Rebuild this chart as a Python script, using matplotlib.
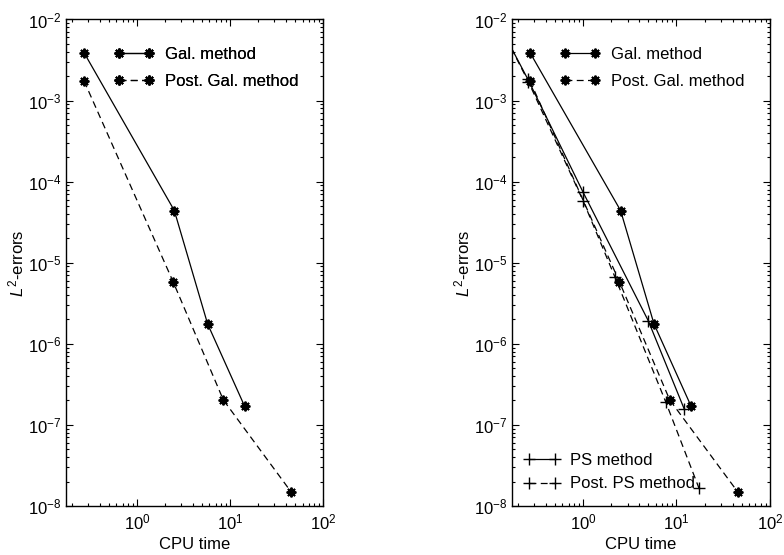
import matplotlib
matplotlib.use("Agg")
from matplotlib import pyplot as plt
from matplotlib.ticker import FixedLocator, LogLocator, NullFormatter

plt.rcParams['font.family'] = ['Liberation Sans', 'DejaVu Sans']
plt.rcParams['mathtext.fontset'] = 'custom'
plt.rcParams['mathtext.rm'] = 'Liberation Sans'
plt.rcParams['mathtext.it'] = 'Liberation Sans:italic'
plt.rcParams['font.size'] = 12

# CPU time vs L2 error, Galerkin and postprocessed Galerkin
gal_t = [0.27, 2.52, 5.74, 14.3]
gal_err = [3.9e-3, 4.4e-5, 1.76e-6, 1.71e-7]
post_gal_t = [0.27, 2.45, 8.47, 45.3]
post_gal_err = [1.75e-3, 5.8e-6, 2.03e-7, 1.49e-8]

# pseudo-spectral runs
ps_t = [0.15, 0.255, 1.0, 4.98, 12.1]
ps_err = [5.9e-3, 1.85e-3, 7.4e-5, 1.93e-6, 1.57e-7]
post_ps_t = [0.15, 0.26, 1.0, 2.2, 7.64, 17.4]
post_ps_err = [5.9e-3, 1.7e-3, 5.8e-5, 6.6e-6, 1.94e-7, 1.66e-8]

xticks = [1, 10, 100]
yticks = [1e-8, 1e-7, 1e-6, 1e-5, 1e-4, 1e-3, 1e-2]

star = (8, 2, 0)
lw = 0.9
dash = (0, (5.5, 3.5))

fig = plt.figure(figsize=(7.84, 5.55), dpi=100)
ax1 = fig.add_axes([0.0842, 0.0883, 0.328, 0.8766])
ax2 = fig.add_axes([0.653, 0.0883, 0.329, 0.8766])


def style(ax):
    ax.set_xscale('log')
    ax.set_yscale('log')
    ax.set_xlim(0.173, 100)
    ax.set_ylim(1e-8, 1e-2)
    ax.xaxis.set_major_locator(FixedLocator(xticks))
    ax.yaxis.set_major_locator(FixedLocator(yticks))
    ax.xaxis.set_minor_locator(LogLocator(base=10, subs=range(2, 10), numticks=10))
    ax.yaxis.set_minor_locator(LogLocator(base=10, subs=range(2, 10), numticks=10))
    ax.xaxis.set_minor_formatter(NullFormatter())
    ax.yaxis.set_minor_formatter(NullFormatter())
    ax.tick_params(which='both', direction='in', top=True, right=True,
                   labelsize=12, width=0.8)
    ax.tick_params(which='major', length=5)
    ax.tick_params(which='minor', length=2.5)
    ax.tick_params(axis='x', pad=5)
    for s in ax.spines.values():
        s.set_linewidth(1.0)
    ax.set_xlabel('CPU time', fontsize=12, labelpad=3)
    ax.set_ylabel('$L^2$-errors', fontsize=12, labelpad=1)


def top_legend(ax, handles):
    leg = ax.legend(handles=handles, loc='upper left', frameon=False,
                    numpoints=2, handlelength=2.4, handletextpad=0.7,
                    borderpad=0, borderaxespad=0, labelspacing=0.72,
                    bbox_to_anchor=(0.185, 0.944))
    ax.add_artist(leg)


for ax in (ax1, ax2):
    style(ax)
    g1, = ax.plot(gal_t, gal_err, color='k', lw=lw, marker=star, ms=7,
                  mew=1.4, label='Gal. method')
    g2, = ax.plot(post_gal_t, post_gal_err, color='k', lw=lw, ls=dash,
                  marker=star, ms=7, mew=1.4, label='Post. Gal. method')
    top_legend(ax, [g1, g2])

p1, = ax2.plot(ps_t, ps_err, color='k', lw=lw, marker='+', ms=8, mew=1.0,
               label='PS method')
p2, = ax2.plot(post_ps_t, post_ps_err, color='k', lw=lw, ls=dash,
               marker='+', ms=8, mew=1.0, label='Post. PS method')
ax2.legend(handles=[p1, p2], loc='lower left', frameon=False, numpoints=2,
           handlelength=2.15, handletextpad=0.6, borderpad=0,
           borderaxespad=0, labelspacing=0.5, bbox_to_anchor=(0.047, 0.03))

fig.savefig('out.png', dpi=100)
